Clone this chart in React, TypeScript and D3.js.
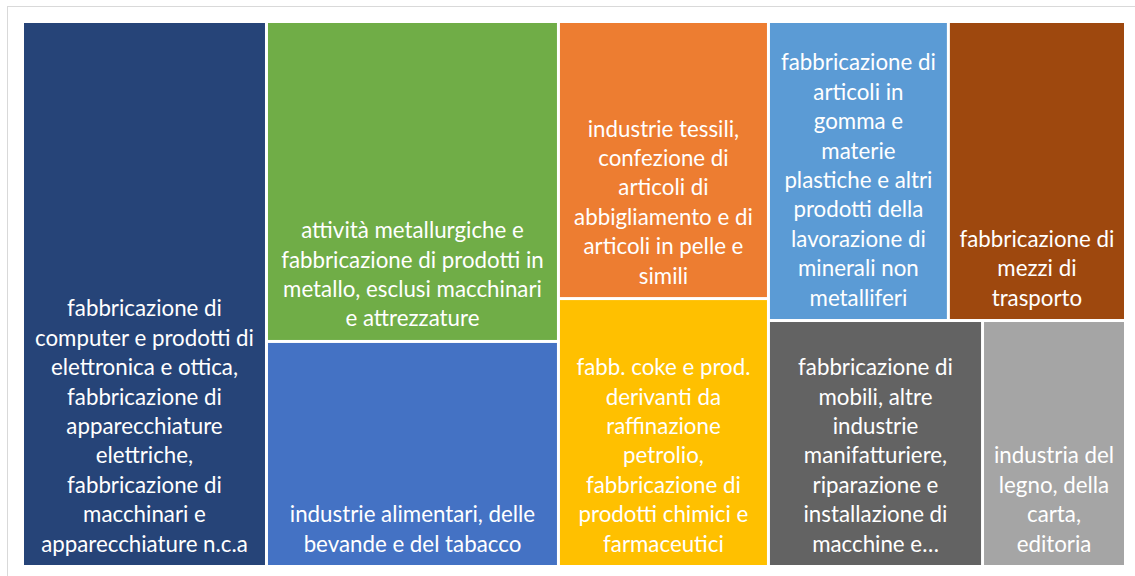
import React from "react";
import * as d3 from "d3";

const categories: string[] = [
  "fabbricazione di\ncomputer e prodotti di\nelettronica e ottica,\nfabbricazione di\napparecchiature\nelettriche,\nfabbricazione di\nmacchinari e\napparecchiature n.c.a",
  "attività metallurgiche e\nfabbricazione di prodotti in\nmetallo, esclusi macchinari\ne attrezzature",
  "industrie alimentari, delle\nbevande e del tabacco",
  "industrie tessili,\nconfezione di\narticoli di\nabbigliamento e di\narticoli in pelle e\nsimili",
  "fabb. coke e prod.\nderivanti da\nraffinazione\npetrolio,\nfabbricazione di\nprodotti chimici e\nfarmaceutici",
  "fabbricazione di\narticoli in\ngomma e\nmaterie\nplastiche e altri\nprodotti della\nlavorazione di\nminerali non\nmetalliferi",
  "fabbricazione di\nmezzi di\ntrasporto",
  "fabbricazione di\nmobili, altre\nindustrie\nmanifatturiere,\nriparazione e\ninstallazione di\nmacchine e…",
  "industria del\nlegno, della\ncarta,\neditoria",
];

const values: number[] = [22.12, 15.54, 10.93, 9.68, 9.36, 8.95, 8.81, 8.76, 5.85];

const colors: string[] = [
  "#264478", "#70AD47", "#4472C4", "#ED7D31", "#FFC000",
  "#5B9BD5", "#9E480E", "#636363", "#A5A5A5",
];

// strip structure of the treemap (indices into categories)
const layoutGroups: any[] = [[0], [1, 2], [3, 4], [[5, 6], [7, 8]]];

const W = 1135;
const H = 576;
const X0 = 24;
const Y0 = 23;
const PW = 1100;
const PH = 542;
const FONT = 22.3;
const LINE = 29.4;
const BOTTOM = 13.5;

function build(g: any): any {
  if (typeof g === "number") return { idx: g, value: values[g] };
  return { children: g.map(build) };
}

export default function App() {
  const rootData = { children: layoutGroups.map(build) };
  const root = d3
    .hierarchy<any>(rootData)
    .sum((d: any) => (d.children ? 0 : d.value));

  const tile = (node: any, x0: number, y0: number, x1: number, y1: number) => {
    if (node.depth % 2 === 0) d3.treemapDice(node, x0, y0, x1, y1);
    else d3.treemapSlice(node, x0, y0, x1, y1);
  };

  d3.treemap<any>().tile(tile).size([PW, PH]).paddingInner(3).round(false)(root);
  const leaves = root.leaves() as any[];

  return (
    <svg
      width={W}
      height={H}
      style={{ position: "absolute", left: 0, top: 0 }}
      fontFamily="Lato, 'Open Sans', sans-serif"
    >
      <rect x={0} y={0} width={W} height={H} fill="#ffffff" />
      <rect x={7.5} y={6.5} width={W + 10} height={H + 10} fill="none" stroke="#d9d9d9" strokeWidth={1} />
      <g transform={`translate(${X0},${Y0})`}>
        {leaves.map((lf) => {
          const i = lf.data.idx;
          const lines = categories[i].split("\n");
          const cx = (lf.x0 + lf.x1) / 2;
          const lastBase = lf.y1 - BOTTOM;
          return (
            <g key={i}>
              <rect
                x={lf.x0}
                y={lf.y0}
                width={lf.x1 - lf.x0}
                height={lf.y1 - lf.y0}
                fill={colors[i]}
              />
              <text fill="#ffffff" fontSize={FONT} textAnchor="middle">
                {lines.map((t, k) => (
                  <tspan key={k} x={cx} y={lastBase - (lines.length - 1 - k) * LINE}>
                    {t}
                  </tspan>
                ))}
              </text>
            </g>
          );
        })}
      </g>
    </svg>
  );
}
